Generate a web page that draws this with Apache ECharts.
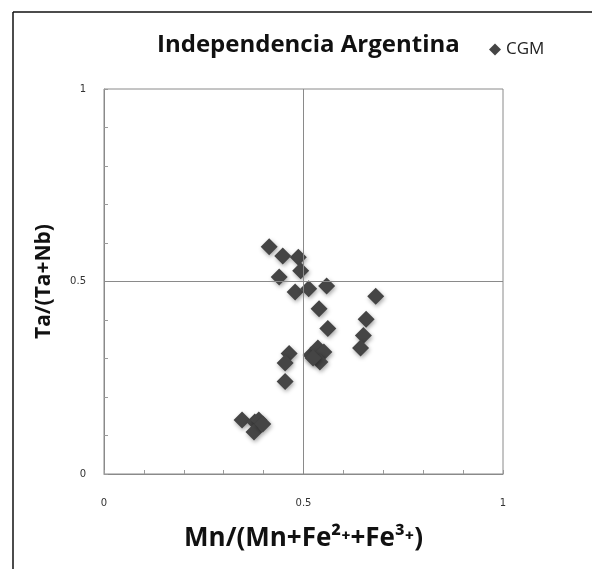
<!DOCTYPE html>
<html><head><meta charset="utf-8">
<script src="https://cdn.jsdelivr.net/npm/echarts@6/dist/echarts.min.js"></script>
<style>html,body{margin:0;padding:0;background:#fff}#c{width:592px;height:569px}</style>
</head><body><div id="c"></div>
<script>
const titleText = "Independencia Argentina";
const seriesName = "CGM";
const xTickLabels = [0, 0.5, 1];
const yTickLabels = [0, 0.5, 1];
const refLineValue = 0.5;
const xValues = [0.414,0.448,0.487,0.493,0.439,0.479,0.513,0.558,0.681,0.539,0.657,0.561,0.650,0.643,0.464,0.454,0.454,0.519,0.536,0.551,0.541,0.524,0.346,0.378,0.388,0.376,0.398];
const yValues = [0.590,0.566,0.563,0.528,0.512,0.473,0.481,0.488,0.462,0.429,0.402,0.378,0.360,0.327,0.313,0.288,0.240,0.309,0.327,0.317,0.291,0.301,0.140,0.135,0.140,0.109,0.130];

const data = xValues.map((x,i)=>[x,yValues[i]]);
const chart = echarts.init(document.getElementById('c'));
const mk = labels => v => { const r = Math.round(v*10)/10; return labels.includes(r) ? String(r) : ''; };
const axisCommon = {
  min:0, max:1, interval:0.1,
  axisLine:{show:true,lineStyle:{color:'#8a8a8a',width:1}},
  axisTick:{show:true,inside:true,length:4,lineStyle:{color:'#9a9a9a'}},
  splitLine:{show:false},
  nameLocation:'middle',
  nameTextStyle:{color:'#111',fontFamily:'Open Sans',fontWeight:'bold'}
};
const labelStyle = {color:'#333',fontFamily:'DejaVu Sans',fontSize:10,showMinLabel:true,showMaxLabel:true};
chart.setOption({
  animation:false,
  title:{text:titleText,left:152,top:28,textStyle:{fontFamily:'Open Sans',fontWeight:'bold',fontSize:24,color:'#111'}},
  legend:{data:[{name:seriesName,icon:'diamond'}],left:484,top:36,itemWidth:12,itemHeight:12,itemGap:4,
    textStyle:{fontFamily:'Open Sans',fontSize:17,color:'#222'}},
  grid:{left:104,right:89,top:89,bottom:95,show:true,borderColor:'#8a8a8a',borderWidth:1},
  xAxis:Object.assign({},axisCommon,{type:'value',name:'Mn/(Mn+Fe²⁺+Fe³⁺)',nameGap:52,
    nameTextStyle:Object.assign({},axisCommon.nameTextStyle,{fontSize:26}),
    axisLabel:Object.assign({},labelStyle,{margin:24,formatter:mk(xTickLabels)})}),
  yAxis:Object.assign({},axisCommon,{type:'value',name:'Ta/(Ta+Nb)',nameGap:49,
    nameTextStyle:Object.assign({},axisCommon.nameTextStyle,{fontSize:21}),
    axisLabel:Object.assign({},labelStyle,{margin:18,formatter:mk(yTickLabels)})}),
  graphic:[
    {type:'line',shape:{x1:13,y1:12,x2:592,y2:12},style:{stroke:'#111',lineWidth:1.5}},
    {type:'line',shape:{x1:13,y1:12,x2:13,y2:569},style:{stroke:'#111',lineWidth:1.5}}
  ],
  series:[{type:'scatter',name:seriesName,symbol:'diamond',symbolSize:17,data:data,
    markLine:{silent:true,symbol:'none',label:{show:false},animation:false,
      lineStyle:{color:'#8a8a8a',width:1,type:'solid'},
      data:[{xAxis:refLineValue},{yAxis:refLineValue}]},
    itemStyle:{color:'#454545',opacity:1,shadowBlur:4,shadowColor:'rgba(0,0,0,0.35)',shadowOffsetX:1,shadowOffsetY:2}}]
});
</script></body></html>
